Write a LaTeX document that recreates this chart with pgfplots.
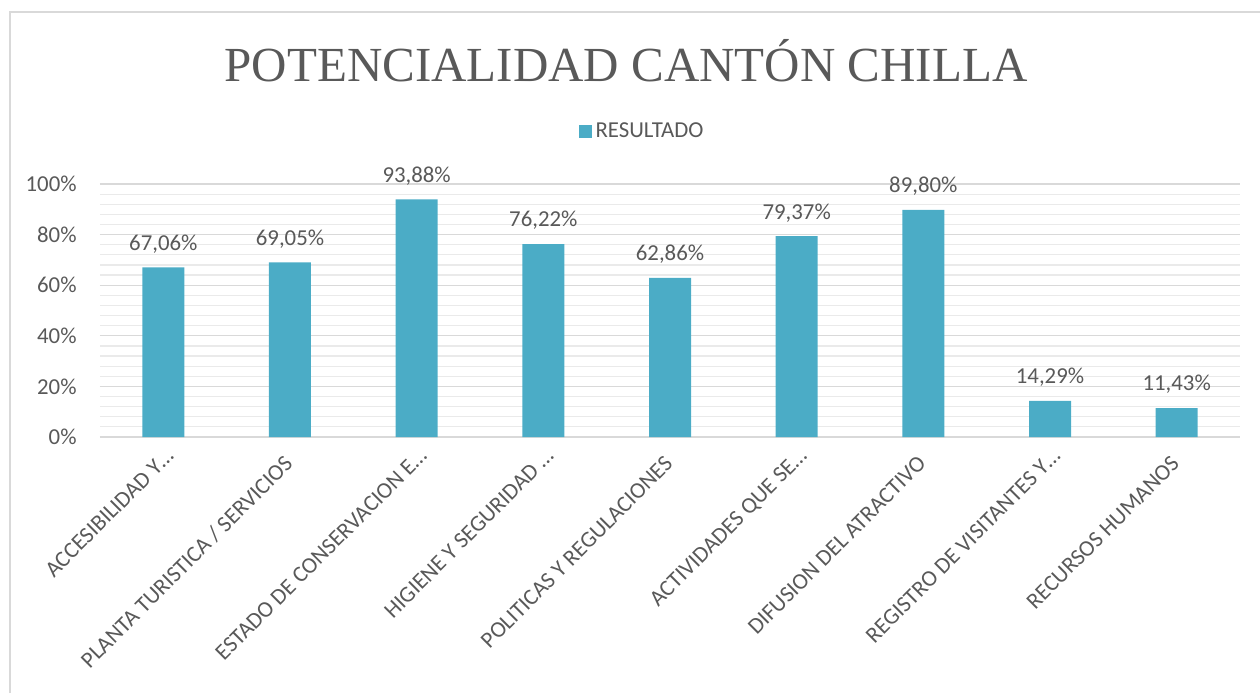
\documentclass[border=0pt]{standalone}
\usepackage{pgfplots}
\pgfplotsset{compat=1.18}
\usepackage{fontspec}
\setmainfont{Carlito}
\newfontfamily\titlefont{Liberation Serif}

\definecolor{barcol}{HTML}{4BACC6}
\definecolor{txt}{HTML}{595959}
\definecolor{gridmaj}{HTML}{D9D9D9}
\definecolor{gridmin}{HTML}{EAEAEA}

\newcommand{\lbl}{\fontsize{11.4}{13.7}\selectfont}
\newcommand{\trunc}{\ldots\kern-5.5pt}

\begin{document}
\begin{tikzpicture}[x=1pt,y=1pt]
\useasboundingbox (0,0) rectangle (630,346.5);
% chart frame
\draw[gridmaj, line width=1pt] (5,0) -- (5,340.5) -- (630,340.5);
\node[anchor=base, text=txt, inner sep=0pt, font=\titlefont\fontsize{24.5}{29}\selectfont]
  at (313,305.5) {POTENCIALIDAD CANTÓN CHILLA};

\begin{axis}[
    at={(50pt,128pt)}, anchor=south west,
    scale only axis, width=570pt, height=126.5pt,
    /pgf/number format/assume math mode=true,
    ybar, bar width=21pt,
    xmin=-0.5, xmax=8.5,
    ymin=0, ymax=100,
    xtick={0,...,8},
    xticklabels={ACCESIBILIDAD Y\trunc, PLANTA TURISTICA / SERVICIOS,
        ESTADO DE CONSERVACION E\trunc, HIGIENE Y SEGURIDAD \trunc,
        POLITICAS Y REGULACIONES, ACTIVIDADES QUE SE\trunc,
        DIFUSION DEL ATRACTIVO, REGISTRO DE VISITANTES Y\trunc,
        RECURSOS HUMANOS},
    xticklabel style={font=\lbl, text=txt, inner sep=0pt,
        xshift=2pt, yshift=-14pt, rotate=45, anchor=base east},
    ytick={0,20,...,100},
    yticklabel={\pgfmathprintnumber{\tick}\%},
    yticklabel style={font=\lbl, text=txt, inner sep=0pt, xshift=-11.5pt, anchor=east},
    minor y tick num=4,
    major tick length=0pt, minor tick length=0pt,
    ymajorgrids, yminorgrids,
    major grid style={gridmaj, line width=0.6pt},
    minor grid style={gridmin, line width=0.6pt},
    axis line style={draw=none},
    nodes near coords={\pgfmathprintnumber[fixed, fixed zerofill, precision=2, use comma]{\pgfplotspointmeta}\%},
    nodes near coords style={font=\lbl, text=txt, anchor=base, inner sep=0pt, yshift=8.6pt},
    legend style={at={(0.4763,1.206)}, anchor=center, draw=none, fill=none,
        font=\lbl, text=txt},
    legend image code/.code={\fill[barcol] (0pt,-3.25pt) rectangle (6.5pt,3.25pt);},
]
\addplot[fill=barcol, draw=none] coordinates {
    (0,67.06) (1,69.05) (2,93.88) (3,76.22) (4,62.86)
    (5,79.37) (6,89.80) (7,14.29) (8,11.43)
};
\addlegendentry{RESULTADO}
\end{axis}
\end{tikzpicture}
\end{document}
